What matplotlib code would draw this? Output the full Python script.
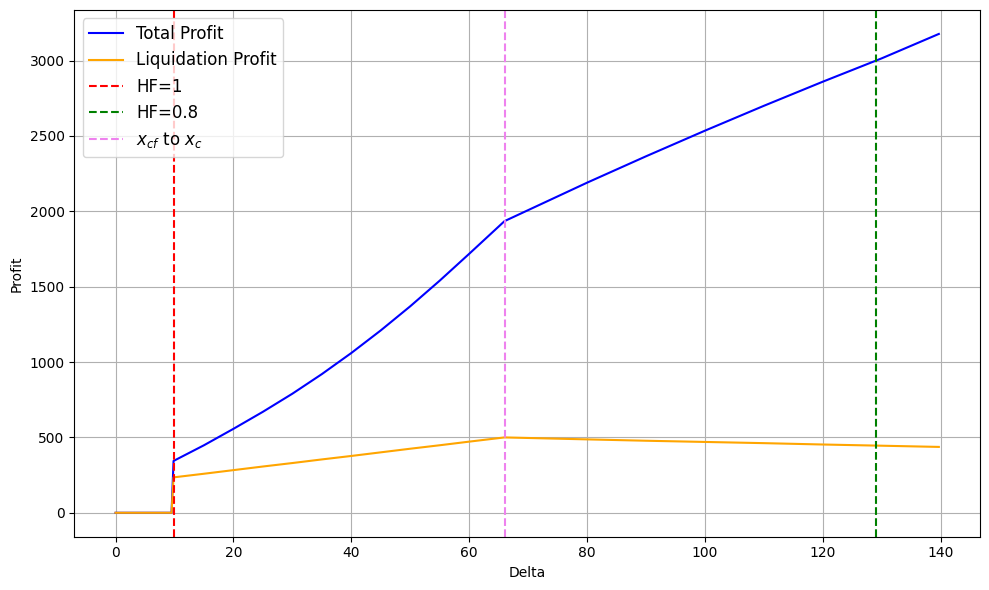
import matplotlib.pyplot as plt

delta = [0, 9.5, 9.84, 15, 20, 25, 30, 35, 40, 45, 50, 55, 60, 66,
         80, 90, 100, 110, 120, 130, 139.7]
total_profit = [0, 0, 344, 448, 557, 670, 790, 920, 1060, 1210, 1370, 1540, 1718, 1935,
                2190, 2365, 2535, 2700, 2860, 3015, 3177]
liq_profit = [0, 0, 235, 259, 283, 307, 330, 354, 377, 401, 425, 448, 472, 500,
              487, 478, 470, 462, 453, 445, 437]

hf1 = 9.84
hf08 = 129.1
x_cf = 66.0

plt.figure(figsize=(10, 6))
plt.plot(delta, total_profit, label='Total Profit', color='blue')
plt.plot(delta, liq_profit, label='Liquidation Profit', color='orange')
plt.axvline(hf1, color='red', linestyle='--', label='HF=1')
plt.axvline(hf08, color='green', linestyle='--', label='HF=0.8')
plt.axvline(x_cf, color='violet', linestyle='--', label=r'$x_{cf}$ to $x_c$')

plt.xlabel('Delta')
plt.ylabel('Profit')
plt.legend(fontsize=12, loc='upper left')
plt.grid(True)
plt.tight_layout()
plt.savefig('out.png', dpi=100, bbox_inches='tight')
